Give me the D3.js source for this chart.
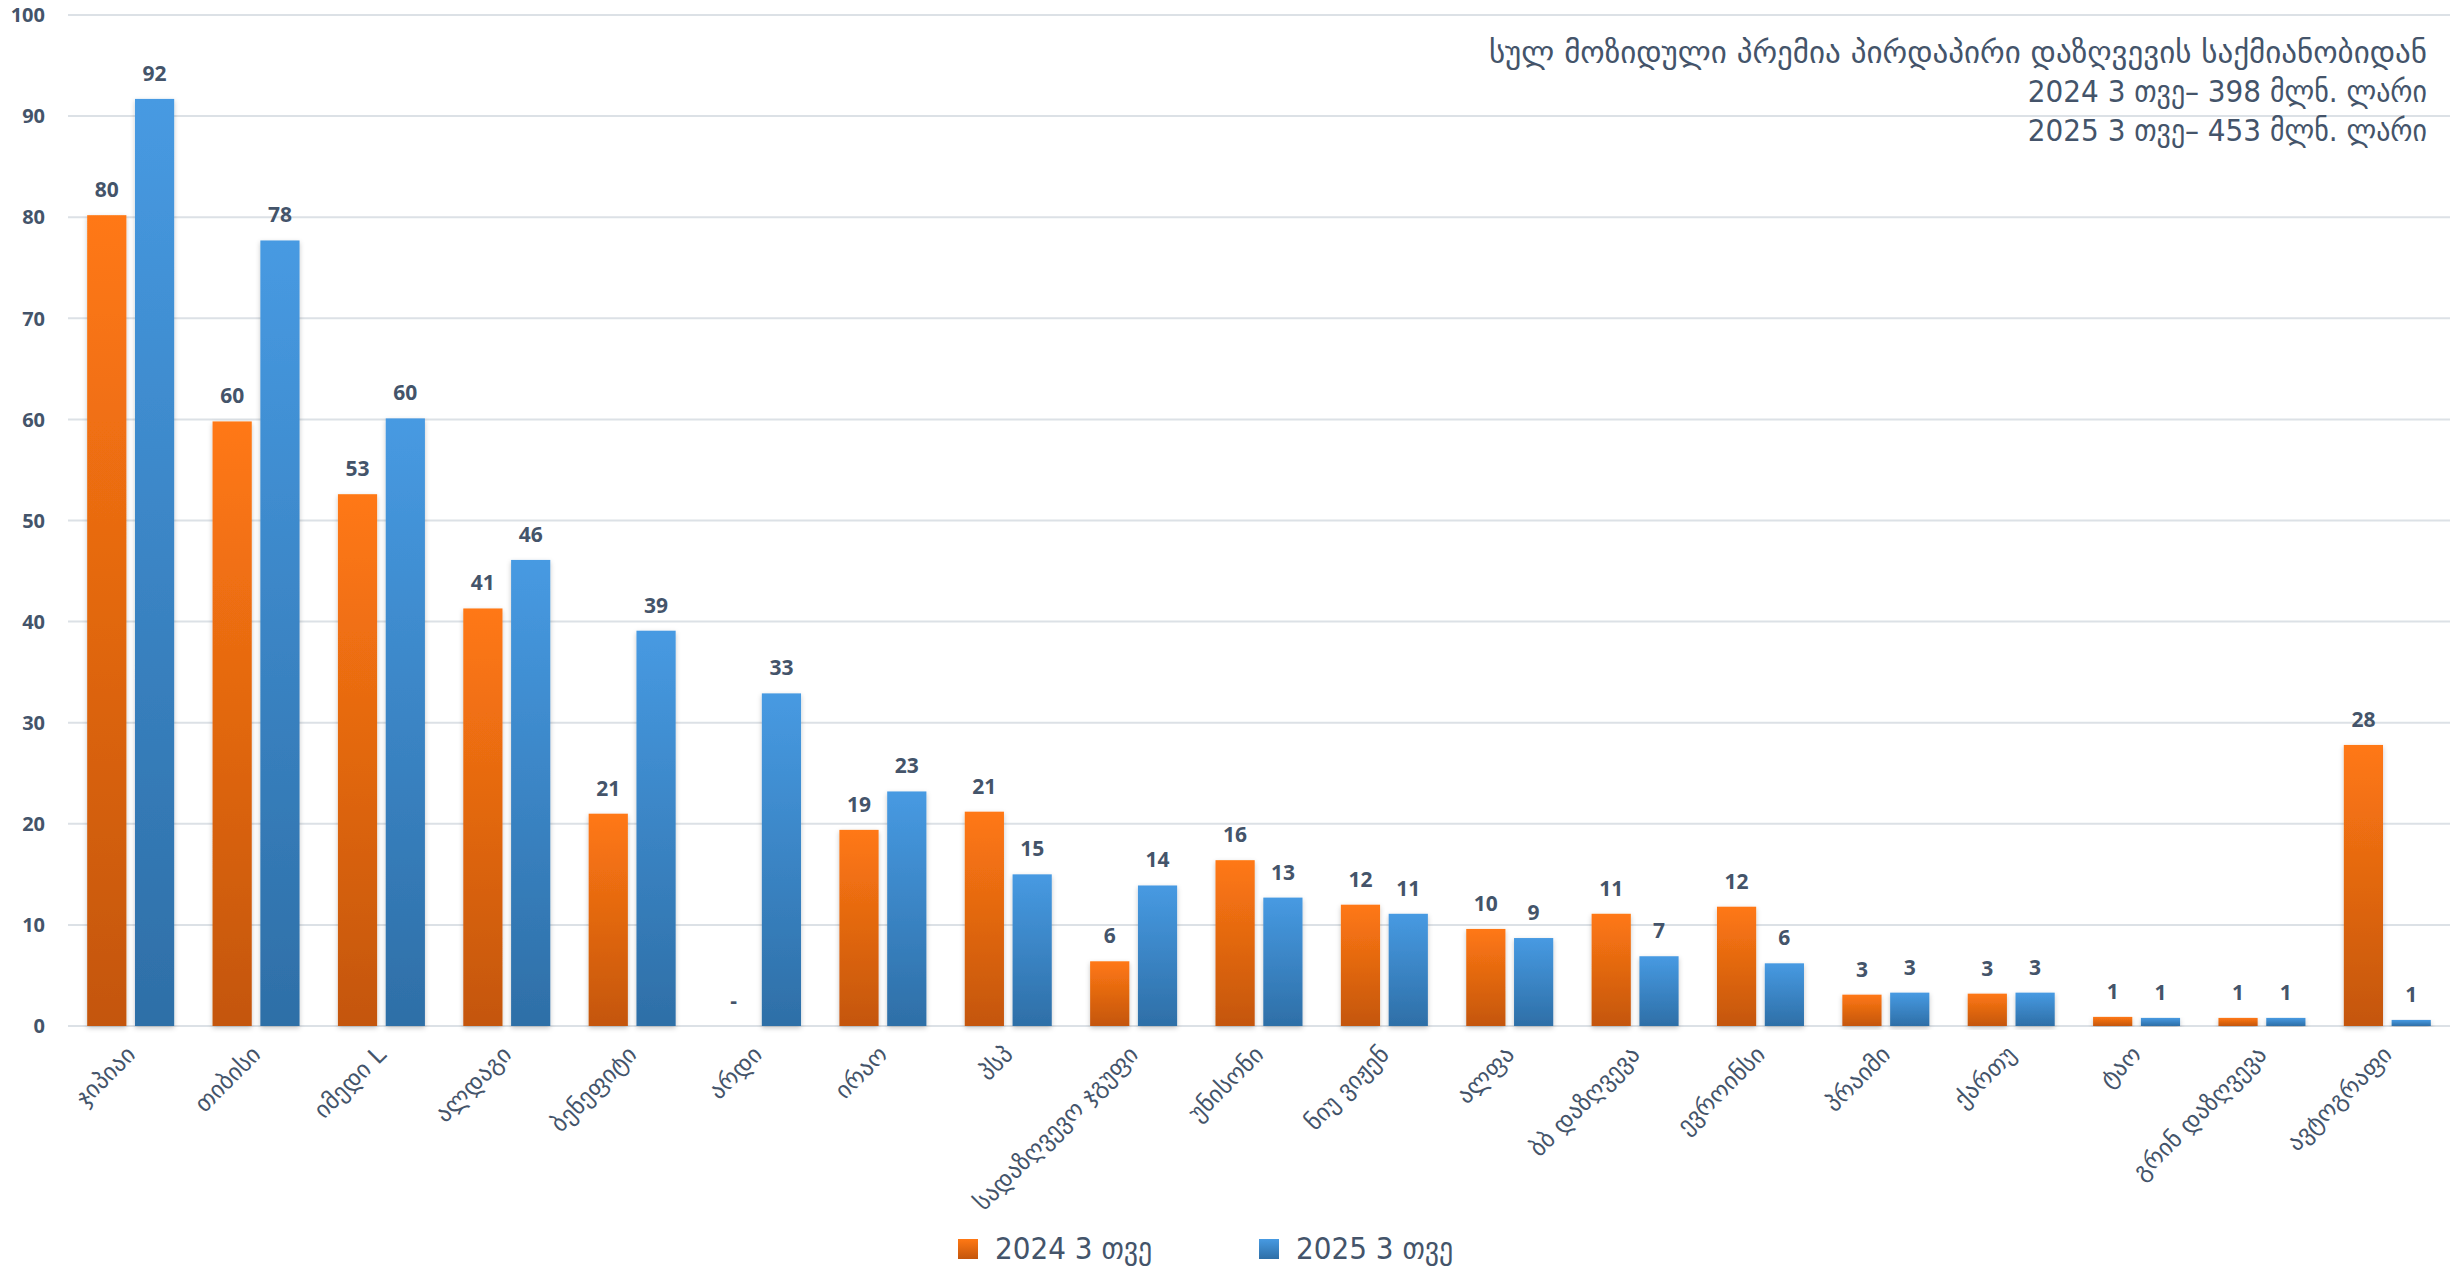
<!DOCTYPE html>
<html>
<head>
    <meta charset="utf-8">
    <script src="https://d3js.org/d3.v7.min.js"></script>
    <style>
        body { margin: 0; background: #fff; }
        svg { display: block; }
    </style>
</head>
<body>
    <svg width="2450" height="1267"></svg>
    <script>
        // data (mln GEL)
        const categories = ["ჯიპიაი", "თიბისი", "იმედი L", "ალდაგი", "ბენეფიტი", "არდი", "ირაო", "პსპ",
            "სადაზღვევო ჯგუფი", "უნისონი", "ნიუ ვიჟენ", "ალფა", "ბბ დაზღვევა", "ევროინსი", "პრაიმი",
            "ქართუ", "ტაო", "გრინ დაზღვევა", "ავტოგრაფი"]
        const series = ["2024 3 თვე", "2025 3 თვე"]
        const values2024 = [80.2, 59.8, 52.6, 41.3, 21.0, null, 19.4, 21.2, 6.4, 16.4, 12.0, 9.6, 11.1, 11.8, 3.1, 3.2, 0.9, 0.8, 27.8]
        const values2025 = [91.7, 77.7, 60.1, 46.1, 39.1, 32.9, 23.2, 15.0, 13.9, 12.7, 11.1, 8.7, 6.9, 6.2, 3.3, 3.3, 0.8, 0.8, 0.6]
        const yTicks = [0, 10, 20, 30, 40, 50, 60, 70, 80, 90, 100]
        const titleLines = ["სულ მოზიდული პრემია პირდაპირი დაზღვევის საქმიანობიდან",
            "2024 3 თვე– 398 მლნ. ლარი",
            "2025 3 თვე– 453 მლნ. ლარი"]

        const svg = d3.select("svg")
        const textColor = "#44546A"
        const geo = "'DejaVu Sans', sans-serif"
        const wide = "'Liberation Sans Narrow', 'DejaVu Sans', sans-serif"
        const narrow = "'Liberation Sans Narrow', 'DejaVu Sans Condensed', sans-serif"

        const plotL = 68, plotR = 2450, plotT = 15, plotB = 1026

        const y = d3.scaleLinear().domain([0, 100]).range([plotB, plotT])
        const x0 = d3.scaleBand().domain(categories).range([plotL, plotR])
            .paddingInner(0.306).paddingOuter(0.153)
        const x1 = d3.scaleBand().domain(series).range([0, x0.bandwidth()]).paddingInner(0.18)

        // gradients + shadow
        const defs = svg.append("defs")
        const grads = [["g2024", "#FF7814", "#C4560C"], ["g2025", "#479AE2", "#2E6FA7"]]
        grads.forEach(g => {
            const lg = defs.append("linearGradient").attr("id", g[0])
                .attr("x1", 0).attr("y1", 0).attr("x2", 0).attr("y2", 1)
            lg.append("stop").attr("offset", "0%").attr("stop-color", g[1])
            lg.append("stop").attr("offset", "100%").attr("stop-color", g[2])
        })
        const f = defs.append("filter").attr("id", "shadow")
            .attr("x", "-20%").attr("y", "-5%").attr("width", "140%").attr("height", "115%")
        f.append("feDropShadow").attr("dx", 0).attr("dy", 2).attr("stdDeviation", 2.5)
            .attr("flood-color", "#000").attr("flood-opacity", 0.22)

        // gridlines
        svg.append("g").selectAll("line")
            .data(yTicks)
            .enter()
            .append("line")
            .attr("x1", plotL)
            .attr("x2", plotR)
            .attr("y1", d => y(d))
            .attr("y2", d => y(d))
            .attr("stroke", "#DCE1E6")
            .style("stroke-width", "2px")

        // y axis labels
        svg.append("g").selectAll("text")
            .data(yTicks)
            .enter()
            .append("text")
            .attr("x", 45)
            .attr("y", d => y(d))
            .attr("dy", "0.36em")
            .attr("text-anchor", "end")
            .attr("fill", textColor)
            .style("font", "bold 20px 'Open Sans', sans-serif")
            .text(d => d)

        const rows = categories.map((c, i) => ({
            cat: c,
            vals: [{s: series[0], v: values2024[i], grad: "g2024"}, {s: series[1], v: values2025[i], grad: "g2025"}]
        }))

        const groups = svg.append("g").selectAll("g")
            .data(rows)
            .enter()
            .append("g")
            .attr("transform", d => "translate(" + x0(d.cat) + ",0)")

        groups.selectAll("rect")
            .data(d => d.vals.filter(v => v.v != null))
            .enter()
            .append("rect")
            .attr("x", d => x1(d.s))
            .attr("width", x1.bandwidth())
            .attr("y", d => y(d.v))
            .attr("height", d => y(0) - y(d.v))
            .attr("fill", d => "url(#" + d.grad + ")")
            .attr("filter", "url(#shadow)")

        groups.selectAll("text.val")
            .data(d => d.vals)
            .enter()
            .append("text")
            .attr("class", "val")
            .attr("x", d => x1(d.s) + x1.bandwidth() / 2)
            .attr("y", d => y(d.v == null ? 0 : d.v) - 18)
            .attr("text-anchor", "middle")
            .attr("fill", textColor)
            .style("font", "bold 21px 'Open Sans', sans-serif")
            .text(d => d.v == null ? "-" : Math.round(d.v))

        // category labels, rotated
        svg.append("g").selectAll("text")
            .data(categories)
            .enter()
            .append("text")
            .attr("transform", d => "translate(" + (x0(d) + x0.bandwidth() / 2 + 6) + "," + (plotB + 30) + ") rotate(-45)")
            .attr("text-anchor", "end")
            .attr("fill", textColor)
            .style("font", "24px " + geo)
            .text(d => d)

        // title block
        svg.append("g").selectAll("text")
            .data(titleLines)
            .enter()
            .append("text")
            .attr("x", 2427)
            .attr("y", (d, i) => 63 + i * 39)
            .attr("text-anchor", "end")
            .attr("fill", textColor)
            .style("font", (d, i) => "31px " + (i == 0 ? wide : narrow))
            .text(d => d)

        // legend
        const color = {"2024 3 თვე": "g2024", "2025 3 თვე": "g2025"}
        const leg = svg.append("g").selectAll("g")
            .data(series)
            .enter()
            .append("g")
            .attr("transform", (d, i) => "translate(" + (958 + i * 301) + ",1239)")
        leg.append("rect")
            .attr("width", 20).attr("height", 20)
            .attr("fill", d => "url(#" + color[d] + ")")
        leg.append("text")
            .attr("x", 37).attr("y", 20)
            .attr("fill", textColor)
            .style("font", "31px " + narrow)
            .text(d => d)
    </script>
</body>
</html>
